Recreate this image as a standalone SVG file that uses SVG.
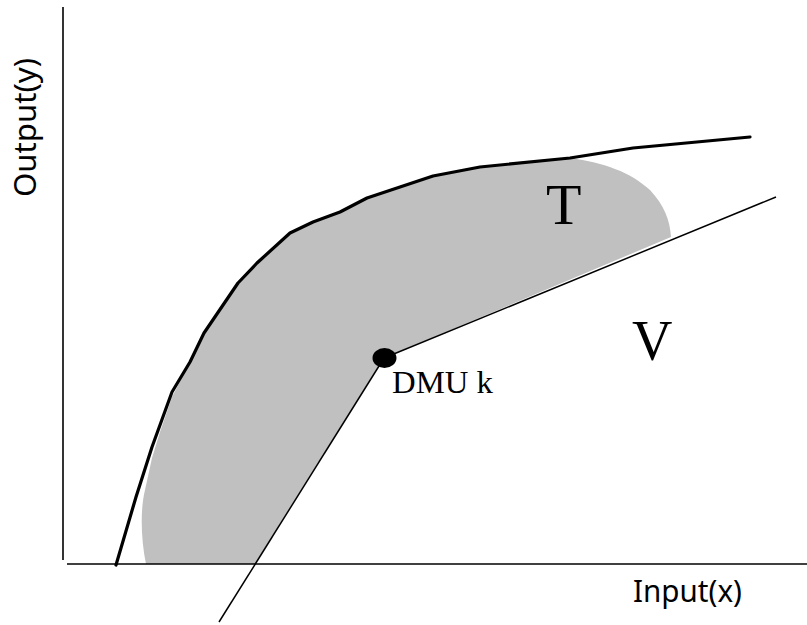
<svg xmlns="http://www.w3.org/2000/svg" width="807" height="625" viewBox="0 0 807 625">
<style>
.axis{stroke:#000;stroke-width:1.6;fill:none}
.thin{stroke:#000;stroke-width:1.5;fill:none}
.front{stroke:#000;stroke-width:3.2;fill:none;stroke-linejoin:round;stroke-linecap:round}
.sans{font-family:"Noto Sans","Open Sans","Liberation Sans",sans-serif;font-size:31px;fill:#000}
.serif{font-family:"Liberation Serif","Times New Roman",serif;fill:#000}
</style>
<rect width="807" height="625" fill="#fff"/>
<g id="region-T">
<path d="M146,564 C141,540 140,510 145,490 L152,458 L160,432 L172,397 L190,362 L204,333 L238,283 L257,263 L290,233 L313,222 L340,212 L367,198 L400,187 L433,176 L480,167 L570,158 C605,163 630,172 650,190 C664,205 670,220 671,237 L384,358 L255,564 Z" fill="#c0c0c0"/>
</g>
<g id="axes">
<line class="axis" x1="63" y1="7" x2="63" y2="560"/>
<line class="axis" x1="67" y1="564" x2="807" y2="564"/>
</g>
<g id="connectors">
<polyline class="front" points="116,565 136,497 152,447 172,392 190,362 204,333 238,283 257,263 290,233 313,222 340,212 367,198 400,187 433,176 480,167 570,158 633,148 750,137"/>
<line class="thin" x1="384" y1="358" x2="776" y2="197"/>
<line class="thin" x1="384" y1="358" x2="219" y2="622"/>
</g>
<g id="dmu-k">
<ellipse cx="384.5" cy="358" rx="12" ry="10" fill="#000"/>
<text class="serif" x="392" y="393" font-size="31" textLength="101" lengthAdjust="spacingAndGlyphs">DMU k</text>
</g>
<g id="label-T"><text class="serif" x="546" y="224" font-size="58">T</text></g>
<g id="label-V"><text class="serif" x="632" y="360" font-size="56">V</text></g>
<g id="label-output"><text class="sans" transform="translate(36,197) rotate(-90)" textLength="139" lengthAdjust="spacingAndGlyphs">Output(y)</text></g>
<g id="label-input"><text class="sans" x="633" y="602" textLength="109" lengthAdjust="spacingAndGlyphs">Input(x)</text></g>
</svg>
